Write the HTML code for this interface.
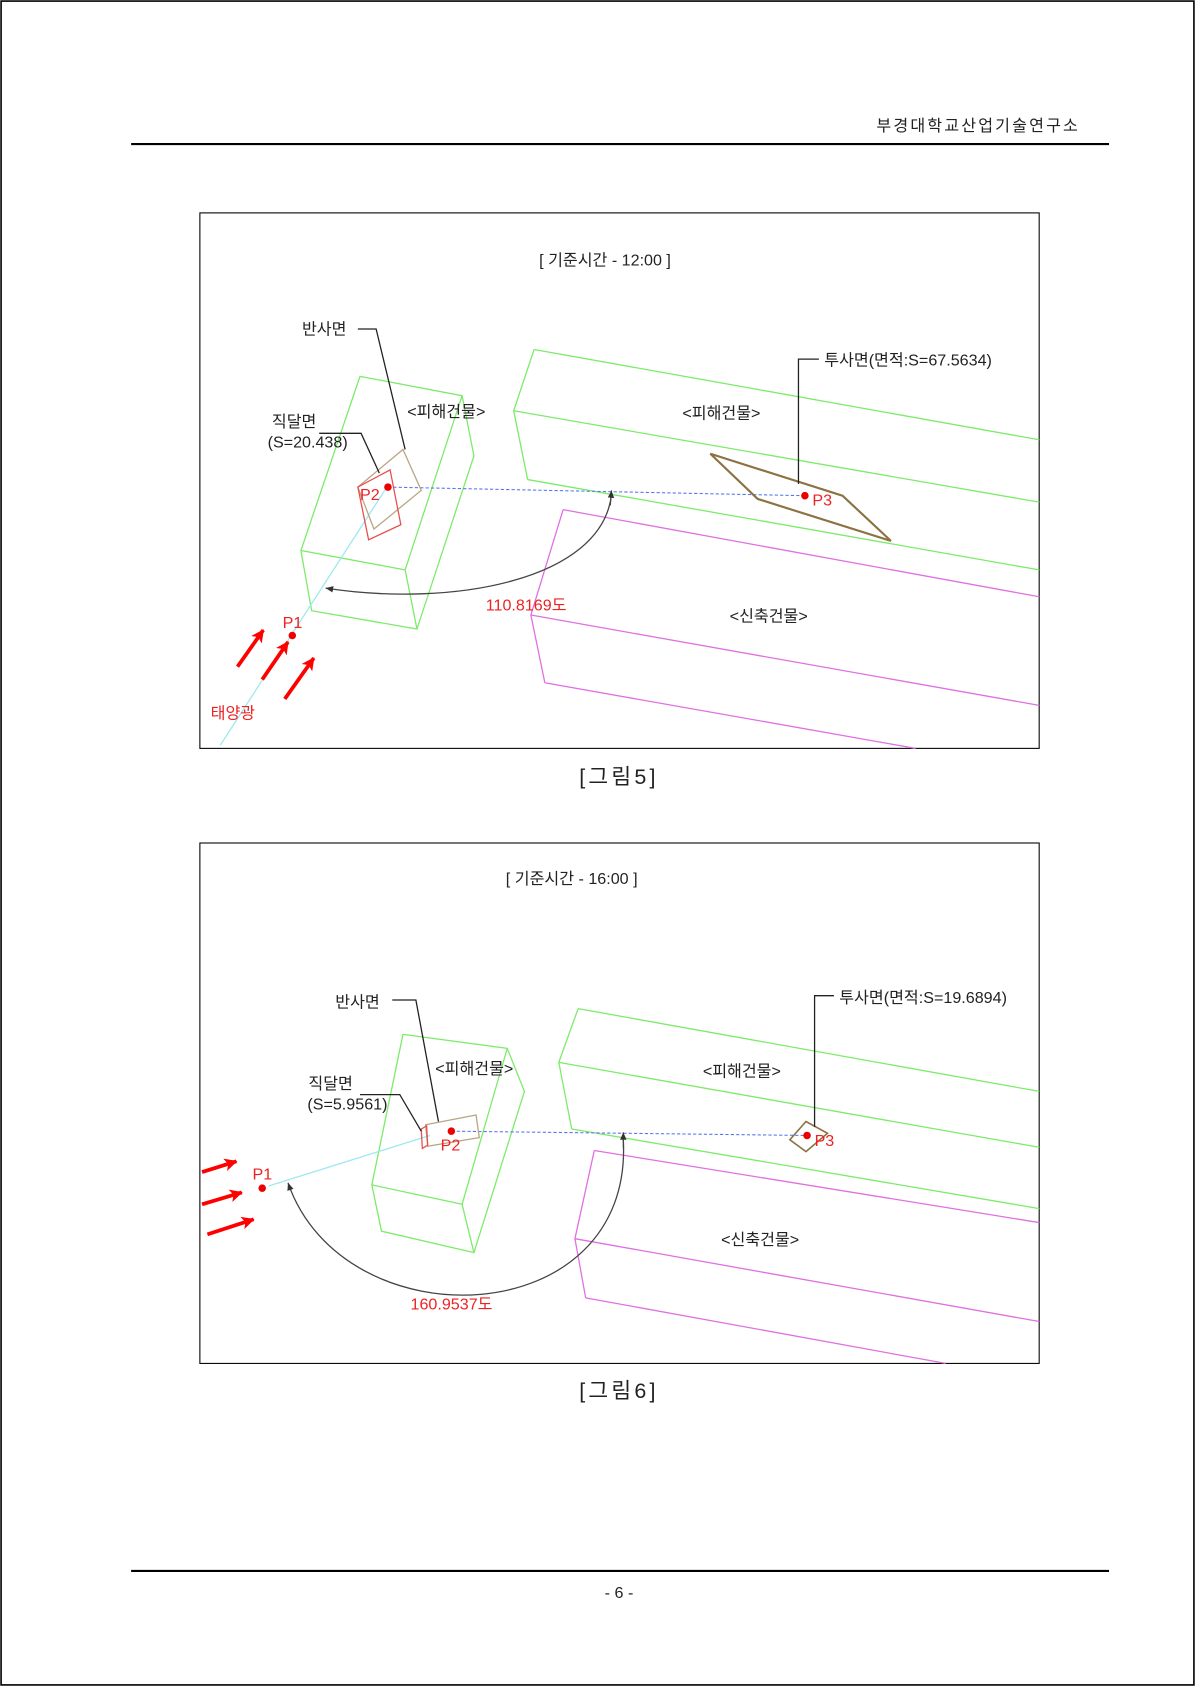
<!DOCTYPE html>
<html><head><meta charset="utf-8"><style>
html,body{margin:0;padding:0;background:#fff}
svg{display:block}
text{font-family:"Liberation Sans","Noto Sans CJK KR",sans-serif}
</style></head><body>
<svg width="1195" height="1686" viewBox="0 0 1112 1568" preserveAspectRatio="none" xmlns="http://www.w3.org/2000/svg">
<defs>
<marker id="ah" markerWidth="8" markerHeight="8" refX="7" refY="4" orient="auto" markerUnits="userSpaceOnUse"><path d="M0,1 L7,4 L0,7z" fill="#333"/></marker>
<marker id="ra" markerWidth="14" markerHeight="14" refX="11" refY="7" orient="auto" markerUnits="userSpaceOnUse"><path d="M0,1 L12,7 L0,13 L3,7z" fill="#f00"/></marker>
</defs>
<rect x="1" y="1" width="1110" height="1566" fill="none" stroke="#000" stroke-width="1.5"/>
<text x="1005" y="122" font-size="15" text-anchor="end" fill="#222" letter-spacing="2">부경대학교산업기술연구소</text>
<line x1="122" y1="134" x2="1032" y2="134" stroke="#000" stroke-width="2"/>
<line x1="122" y1="1461" x2="1032" y2="1461" stroke="#000" stroke-width="2"/>
<text x="576" y="1486" font-size="15" text-anchor="middle" fill="#222">-  6  -</text>

<!-- FIG 5 -->
<rect x="186" y="198" width="781" height="498" fill="none" stroke="#000" stroke-width="1"/>
<text x="563" y="247" font-size="15" text-anchor="middle" fill="#222">[ 기준시간 - 12:00 ]</text>
<g fill="none" stroke="#7CEB6A" stroke-width="1.2">
<path d="M335,350 L430,368 L441,424 L388,585 L290,568 L280,512 Z M280,512 L377,530 L430,368 M377,530 L388,585"/>
<path d="M497,325 L967,409 M478,382 L967,467 M491,446 L967,530 M497,325 L478,382 L491,446"/>
</g>
<g fill="none" stroke="#E070E0" stroke-width="1.2">
<path d="M524,474 L967,555 M494,572 L967,656 M507,635 L852,696 M524,474 L494,572 L507,635"/>
</g>
<line x1="205" y1="693" x2="360" y2="453" stroke="#9FE8F0" stroke-width="1.2"/>
<line x1="361" y1="453" x2="749" y2="461" stroke="#5577ee" stroke-width="1" stroke-dasharray="3,2"/>
<path d="M375,418 L392,456 L348,492 L333,453 Z" fill="none" stroke="#B8A682" stroke-width="1.2"/>
<path d="M333,453 L363,437 L373,488 L343,502 Z" fill="none" stroke="#E85050" stroke-width="1.2"/>
<path d="M661,422 L784,461 L829,503 L705,464 Z" fill="none" stroke="#8B7240" stroke-width="2"/>
<path d="M569,460 C560,540 420,565 303,547" fill="none" stroke="#444" stroke-width="1.2" marker-end="url(#ah)"/>
<path d="M568,470 L569,456" stroke="#444" marker-end="url(#ah)"/>
<circle cx="361" cy="453" r="3.5" fill="#e00"/><circle cx="749" cy="461" r="3.5" fill="#e00"/><circle cx="272" cy="591" r="3.5" fill="#e00"/>
<g fill="#e22" font-size="15"><text x="335" y="465">P2</text><text x="756" y="470">P3</text><text x="263" y="584">P1</text><text x="452" y="568">110.8169도</text><text x="196" y="668">태양광</text></g>
<g stroke="#f00" stroke-width="3.5" marker-end="url(#ra)"><line x1="221" y1="620" x2="245" y2="586"/><line x1="244" y1="632" x2="268" y2="597"/><line x1="265" y1="650" x2="292" y2="612"/></g>
<g fill="none" stroke="#222" stroke-width="1.2"><path d="M333,306 L350,306 L377,418"/><path d="M297,403 L336,403 L353,440"/><path d="M762,334 L743,334 L743,450"/></g>
<g fill="#222" font-size="15"><text x="281" y="311">반사면</text><text x="253" y="397">직달면</text><text x="249" y="416">(S=20.438)</text><text x="379" y="388">&lt;피해건물&gt;</text><text x="635" y="389">&lt;피해건물&gt;</text><text x="679" y="578">&lt;신축건물&gt;</text><text x="767" y="340">투사면(면적:S=67.5634)</text></g>
<text x="576" y="729" font-size="20" text-anchor="middle" fill="#222" letter-spacing="3">[그림5]</text>

<!-- FIG 6 -->
<rect x="186" y="784" width="781" height="484" fill="none" stroke="#000" stroke-width="1"/>
<text x="532" y="822" font-size="15" text-anchor="middle" fill="#222">[ 기준시간 - 16:00 ]</text>
<g fill="none" stroke="#7CEB6A" stroke-width="1.2">
<path d="M375,962 L472,975 L488,1015 L441,1165 L355,1145 L346,1102 Z M346,1102 L430,1120 L472,975 M430,1120 L441,1165"/>
<path d="M538,938 L967,1015 M520,988 L967,1067 M532,1050 L967,1124 M538,938 L520,988 L532,1050"/>
</g>
<g fill="none" stroke="#E070E0" stroke-width="1.2">
<path d="M553,1070 L967,1137 M535,1152 L967,1229 M545,1207 L880,1268 M553,1070 L535,1152 L545,1207"/>
</g>
<line x1="250" y1="1103" x2="400" y2="1056" stroke="#9FE8F0" stroke-width="1.2"/>
<line x1="420" y1="1052" x2="751" y2="1056" stroke="#5577ee" stroke-width="1" stroke-dasharray="3,2"/>
<path d="M396,1046 L443,1037 L446,1058 L398,1066 Z" fill="none" stroke="#B8A682" stroke-width="1.2"/>
<path d="M392,1050 L397,1047 L398,1065 L393,1068 Z" fill="none" stroke="#E85050" stroke-width="1.2"/>
<path d="M735,1060 L750,1043 L770,1054 L750,1071 Z" fill="none" stroke="#8B7240" stroke-width="1.5"/>
<path d="M580,1060 C590,1240 320,1250 268,1100" fill="none" stroke="#444" stroke-width="1.2" marker-end="url(#ah)"/>
<path d="M580,1068 L580,1053" stroke="#444" marker-end="url(#ah)"/>
<circle cx="420" cy="1052" r="3.5" fill="#e00"/><circle cx="751" cy="1056" r="3.5" fill="#e00"/><circle cx="244" cy="1105" r="3.5" fill="#e00"/>
<g fill="#e22" font-size="15"><text x="410" y="1070">P2</text><text x="758" y="1066">P3</text><text x="235" y="1097">P1</text><text x="382" y="1218">160.9537도</text></g>
<g stroke="#f00" stroke-width="3.5" marker-end="url(#ra)"><line x1="188" y1="1090" x2="220" y2="1080"/><line x1="188" y1="1120" x2="225" y2="1109"/><line x1="193" y1="1148" x2="236" y2="1134"/></g>
<g fill="none" stroke="#222" stroke-width="1.2"><path d="M365,930 L387,930 L408,1043"/><path d="M335,1018 L372,1018 L392,1052"/><path d="M776,926 L758,926 L758,1048"/></g>
<g fill="#222" font-size="15"><text x="312" y="937">반사면</text><text x="287" y="1013">직달면</text><text x="286" y="1032">(S=5.9561)</text><text x="405" y="999">&lt;피해건물&gt;</text><text x="654" y="1001">&lt;피해건물&gt;</text><text x="671" y="1158">&lt;신축건물&gt;</text><text x="781" y="933">투사면(면적:S=19.6894)</text></g>
<text x="576" y="1300" font-size="20" text-anchor="middle" fill="#222" letter-spacing="3">[그림6]</text>
</svg>
</body></html>
